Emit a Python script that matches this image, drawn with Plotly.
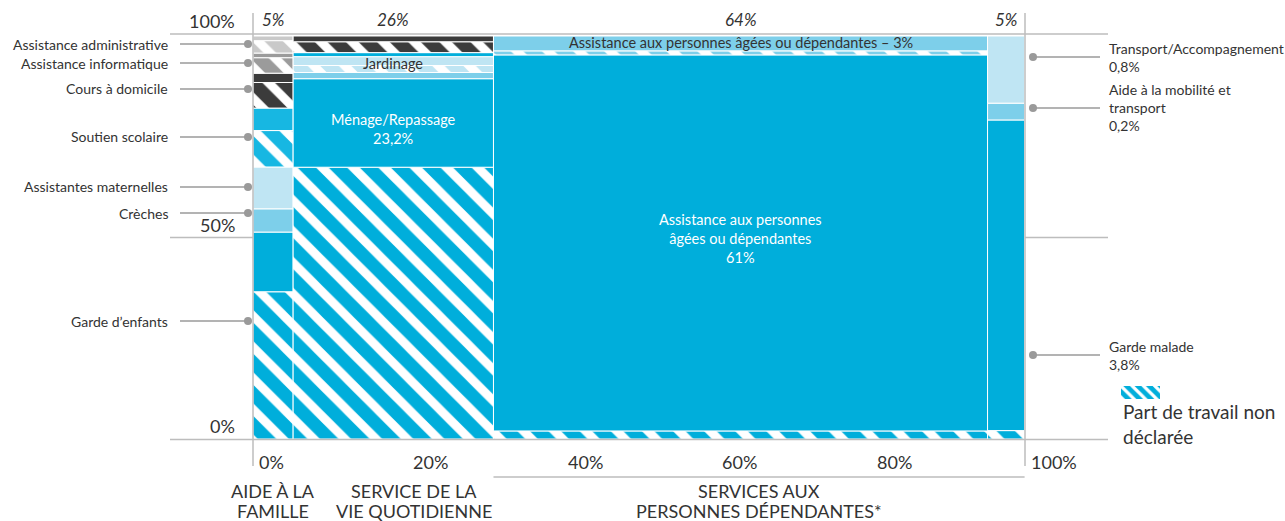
import plotly.graph_objects as go

# ---------------------------------------------------------------------------
# Data: share of all household-service work (% of total), split into the
# undeclared part (hatched) and the declared part (solid), bottom to top.
# ---------------------------------------------------------------------------
segment_names = [
    "Garde d’enfants", "Crèches", "Assistantes maternelles", "Soutien scolaire",
    "Cours à domicile", "Assistance informatique", "Assistance administrative",
    "Ménage/Repassage", "Autres (a)", "Jardinage", "Autres (b)", "Autres (c)",
    "Assistance aux personnes âgées ou dépendantes",
    "Assistance aux personnes âgées ou dépendantes – 3%",
    "Garde malade", "Aide à la mobilité et transport", "Transport/Accompagnement",
]
segment_column = [0, 0, 0, 0, 0, 0, 0, 1, 1, 1, 1, 1, 2, 2, 3, 3, 3]
undeclared = [1.90, 0.00, 0.00, 0.47, 0.33, 0.20, 0.16,
              17.5, 0.00, 0.45, 0.00, 0.70,
              1.28, 0.64,
              0.10, 0.00, 0.00]
declared = [0.77, 0.30, 0.54, 0.29, 0.12, 0.06, 0.06,
            5.70, 0.40, 0.57, 0.26, 0.37,
            59.72, 2.36,
            3.70, 0.20, 0.80]

group_label_lines = [["AIDE À LA", "FAMILLE"],
                     ["SERVICE DE LA", "VIE QUOTIDIENNE"],
                     ["SERVICES AUX", "PERSONNES DÉPENDANTES*"]]
group_columns = [[0], [1], [2, 3]]
x_ticks = [0, 20, 40, 60, 80, 100]
y_ticks = [0, 50, 100]

left_callouts = ["Assistance administrative", "Assistance informatique", "Cours à domicile",
                 "Soutien scolaire", "Assistantes maternelles", "Crèches", "Garde d’enfants"]
right_callouts = ["Transport/Accompagnement", "Aide à la mobilité et transport", "Garde malade"]
right_callout_text = ["Transport/Accompagnement", "Aide à la mobilité et<br>transport", "Garde malade"]

# ---------------------------------------------------------------------------
# Styling
# ---------------------------------------------------------------------------
W, H = 1285, 521
X0, X1 = 253, 1025          # pixel span of the 0–100 % x scale
Y0, Y1 = 439, 36            # pixel span of the 0–100 % y scale
FONT = "Lato"
INK = "#333333"
GRID = "#bdbdbd"
DOT = "#9a9a9a"
SMALL = 14
INBAR = 14.5

BLUE = "#00aedb"
BRIGHT = "#17b7e2"
MID = "#7dcfea"
PALE = "#bfe5f3"
DARK = "#3b3b3b"
GREY = "#9b9b9b"
LIGHTGREY = "#c9c9c9"
segment_colors = [BLUE, MID, PALE, BRIGHT, DARK, GREY, LIGHTGREY,
                  BLUE, MID, PALE, BLUE, DARK,
                  BLUE, MID,
                  BLUE, MID, PALE]
left_callout_py = [44, 63, 89, 137, 187, 213, 321]
right_callout_py = [57, 108, 355]


def px_x(v):
    return X0 + (X1 - X0) * v / 100.0


def px_y(v):
    return Y0 - (Y0 - Y1) * v / 100.0


def pap_x(p):
    return p / W


def pap_y(p):
    return 1 - p / H


def fmt(v):
    return f"{v:.1f}".replace(".", ",") + "%"


# Column widths and positions
n_cols = max(segment_column) + 1
col_width = [0.0] * n_cols
for c, u, d in zip(segment_column, undeclared, declared):
    col_width[c] += u + d
col_start = []
acc = 0.0
for w in col_width:
    col_start.append(acc)
    acc += w
col_center = [s + w / 2 for s, w in zip(col_start, col_width)]

fig = go.Figure()

# Stacked Marimekko pieces
stack = [0.0] * n_cols
seg_pos = {}
for i, name in enumerate(segment_names):
    c = segment_column[i]
    cw = col_width[c]
    seg_base = stack[c]
    for part, hatched in ((undeclared[i], True), (declared[i], False)):
        if part <= 0:
            continue
        h = part / cw * 100
        b = stack[c] / cw * 100
        marker = dict(color=segment_colors[i], line=dict(color="white", width=1))
        if hatched:
            marker["pattern"] = dict(shape="\\", size=22, solidity=0.4,
                                     fgcolor="white", bgcolor=segment_colors[i],
                                     fillmode="replace")
        fig.add_trace(go.Bar(
            x=[col_center[c]], y=[h], base=[b], width=[cw],
            marker=marker, name=name, showlegend=False, hoverinfo="skip",
        ))
        stack[c] += part
    # (column, bottom %, top %, start of declared part %)
    seg_pos[name] = (c, seg_base / cw * 100, stack[c] / cw * 100,
                     (stack[c] - declared[i]) / cw * 100)

# Legend swatch drawn on its own small axes
fig.add_trace(go.Bar(
    x=[0.5], y=[1], width=[1], xaxis="x2", yaxis="y2", showlegend=False,
    marker=dict(color=BLUE, line=dict(width=0),
                pattern=dict(shape="\\", size=8, solidity=0.4, fgcolor="white",
                             bgcolor=BLUE, fillmode="replace")),
    hoverinfo="skip",
))

annotations = []
shapes = []


def line(x0, y0, x1, y1, color=GRID, width=1.5):
    shapes.append(dict(type="line", xref="paper", yref="paper",
                       x0=pap_x(x0), y0=pap_y(y0), x1=pap_x(x1), y1=pap_y(y1),
                       line=dict(color=color, width=width), layer="above"))


def dot(cx, cy, r=4):
    shapes.append(dict(type="circle", xref="paper", yref="paper",
                       x0=pap_x(cx - r), x1=pap_x(cx + r),
                       y0=pap_y(cy + r), y1=pap_y(cy - r),
                       fillcolor=DOT, line=dict(width=0), layer="above"))


def text(x, y, s, size=SMALL, anchor="center", color=INK, italic=False):
    annotations.append(dict(xref="paper", yref="paper", x=pap_x(x), y=pap_y(y),
                            text=s, showarrow=False, xanchor=anchor, yanchor="middle",
                            align=anchor if anchor != "center" else "center",
                            font=dict(family=FONT, size=size, color=color,
                                      style="italic" if italic else "normal")))


# Grid / frame lines
line(170, px_y(0) + 0.5, 1108, px_y(0) + 0.5)
line(170, 34, 1108, 34)
line(170, px_y(50), X0, px_y(50))
line(X1, px_y(50), 1108, px_y(50))
line(X0, 13, X0, 466)
line(X1, 13, X1, 466)

# Y tick labels
for v in y_ticks:
    gy = 34 if v == 100 else px_y(v)
    text(237, gy - 13, f"{v}%", size=18, anchor="right")

# X tick labels
for v in x_ticks:
    text(px_x(v) + 4, 462, f"{v}%", size=18, anchor="left")

# Column share labels on top
for c in range(n_cols):
    text(px_x(col_center[c]), 20, f"{col_width[c]:.0f}%", size=17, italic=True)

# Group labels below the axis
group_shift = [0, 21, 0]
for g, cols in enumerate(group_columns):
    s = col_start[cols[0]]
    e = col_start[cols[-1]] + col_width[cols[-1]]
    cx = px_x((s + e) / 2) + group_shift[g]
    for k, ln in enumerate(group_label_lines[g]):
        text(cx, 491 + 20 * k, ln, size=18)
    if len(cols) > 1:
        line(px_x(s), 477, px_x(e), 477)

# In-bar labels
i = segment_names.index("Ménage/Repassage")
c, lo, hi, mid = seg_pos["Ménage/Repassage"]
text(px_x(col_center[c]), px_y((mid + hi) / 2) + 6,
     f"Ménage/Repassage<br>{fmt(undeclared[i] + declared[i])}", size=INBAR, color="white")

name = "Assistance aux personnes âgées ou dépendantes"
i = segment_names.index(name)
c, lo, hi, mid = seg_pos[name]
text(px_x(col_center[c]), px_y((mid + hi) / 2) - 4,
     f"Assistance aux personnes<br>âgées ou dépendantes<br>{undeclared[i] + declared[i]:.0f}%",
     size=INBAR, color="white")

c, lo, hi, mid = seg_pos["Jardinage"]
text(px_x(col_center[c]), px_y((lo + hi) / 2) - 1, "Jardinage", size=INBAR)

name = "Assistance aux personnes âgées ou dépendantes – 3%"
c, lo, hi, mid = seg_pos[name]
text(px_x(col_center[c]), px_y((mid + hi) / 2) - 1, name, size=INBAR)

# Left call-outs
for name, py in zip(left_callouts, left_callout_py):
    line(180, py, 248, py, color=DOT, width=1.5)
    dot(248, py)
    text(170, py, name, size=SMALL, anchor="right")

# Right call-outs
for name, label, py in zip(right_callouts, right_callout_text, right_callout_py):
    i = segment_names.index(name)
    line(1033, py, 1100, py, color=DOT, width=1.5)
    dot(1033, py)
    text(1107, py, f"{label}<br>{fmt(undeclared[i] + declared[i])}", size=SMALL, anchor="left")

# Legend caption
text(1121, 424, "Part de travail non<br>déclarée", size=19, anchor="left")

fig.update_layout(
    width=W, height=H,
    margin=dict(l=0, r=0, t=0, b=0),
    paper_bgcolor="white", plot_bgcolor="white",
    barmode="overlay", showlegend=False,
    xaxis=dict(domain=[X0 / W, X1 / W], range=[0, 100], visible=False, fixedrange=True),
    yaxis=dict(domain=[1 - Y0 / H, 1 - Y1 / H], range=[0, 100], visible=False, fixedrange=True),
    xaxis2=dict(domain=[1121 / W, 1160 / W], range=[0, 1], visible=False, anchor="y2"),
    yaxis2=dict(domain=[1 - 399 / H, 1 - 386 / H], range=[0, 1], visible=False, anchor="x2"),
    shapes=shapes,
    annotations=annotations,
    font=dict(family=FONT, color=INK),
)

fig.write_html("out.html")
